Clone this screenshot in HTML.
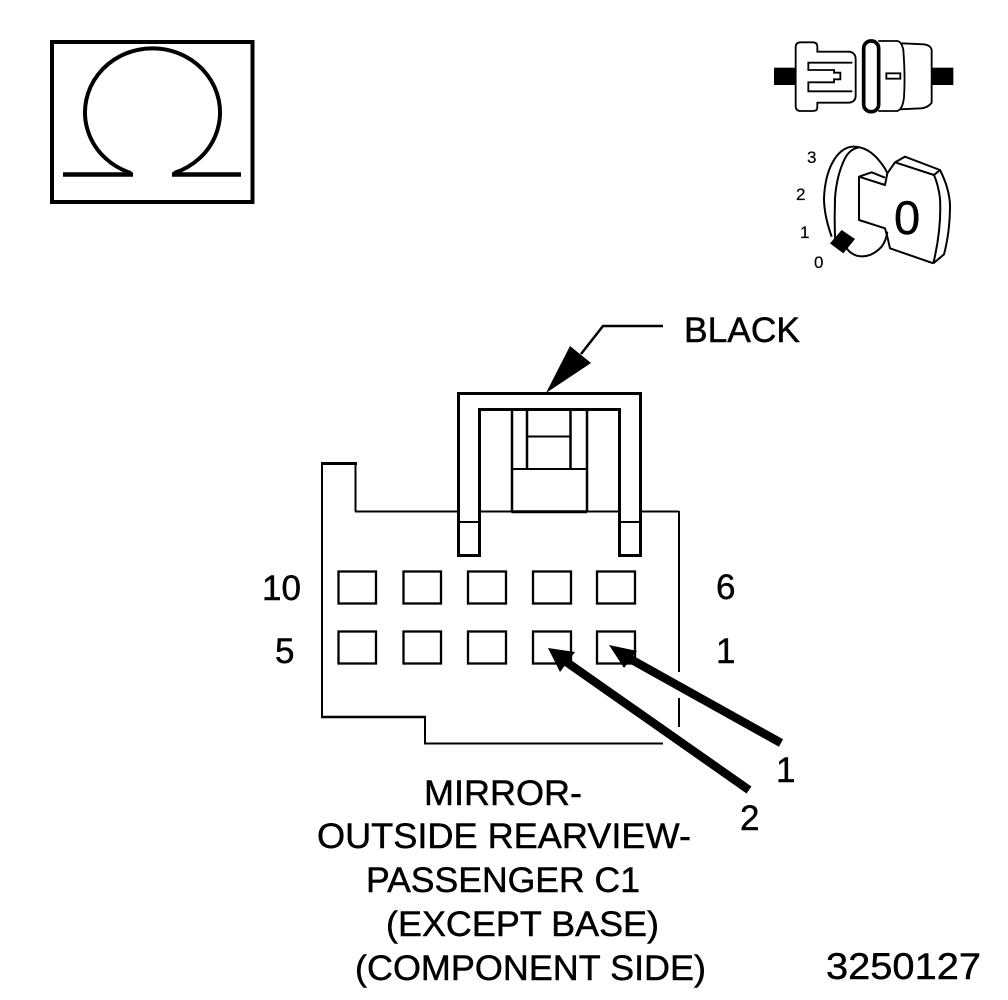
<!DOCTYPE html>
<html><head><meta charset="utf-8"><style>
html,body{margin:0;padding:0;background:#fff}
svg{display:block}
text{font-family:"Liberation Sans",Arial,sans-serif;fill:#000;stroke:#000;stroke-width:.45px;font-size:35px}
</style></head><body>
<svg width="1008" height="1000" viewBox="0 0 1008 1000" xmlns="http://www.w3.org/2000/svg">
<rect width="1008" height="1000" fill="#fff"/>

<!-- omega -->
<rect x="52" y="42" width="200.500" height="160" fill="none" stroke="#000" stroke-width="4"/>
<path d="M131 173A67.500 64 0 1 1 174 173" fill="none" stroke="#000" stroke-width="4"/>
<path d="M63 174.500H133M172 174.500H241" fill="none" stroke="#000" stroke-width="4.500"/>

<!-- seat belt -->
<g transform="translate(760,20) scale(.33333)" fill="none" stroke="#000" stroke-width="5.500">
<rect x="42" y="143" width="66" height="52" fill="#000" stroke="none"/>
<rect x="515" y="143" width="65" height="52" fill="#000" stroke="none"/>
<path d="M107 82Q107 67 122 67H158Q172 67 172 80V95H268Q287 98 287 118V228Q287 245 268 248H172V262Q172 273 158 273H122Q107 273 107 258Z" fill="#fff"/>
<path d="M277 128H145V150H222V158H241V178H222V187H145V214H277"/>
<path d="M355 63H412Q425 65 430 90Q436 170 432 232Q428 268 412 273H355"/>
<path d="M425 70L490 73Q512 75 515 90V248Q505 262 485 265L420 268"/>
<rect x="379" y="160" width="42" height="16"/>
<rect x="311" y="63" width="45" height="212" rx="22" stroke-width="11" fill="#fff"/>
</g>

<!-- key -->
<g transform="translate(790,135) scale(.33333)" fill="none" stroke="#000" stroke-width="6" stroke-linejoin="round">
<path d="M125 305Q102 240 102 190Q105 115 135 70Q160 35 190 35Q235 35 270 80Q285 98 292 115"/>
<path d="M135 310Q133 250 135 190Q140 120 165 70Q180 42 205 38"/>
<path d="M170 340Q180 355 200 362Q240 372 275 335Q288 318 292 290"/>
<path d="M292 115L285 150L207 125L245 112L285 128"/>
<path d="M207 125V255L285 280L292 305L300 340L430 385"/>
<path d="M292 115L315 82L432 120Q445 150 450 190Q455 280 430 385"/>
<path d="M315 82L345 65L450 105Q478 160 480 210Q480 290 462 358L430 385"/>
<path d="M432 120L450 105"/>
<polygon points="155,285 195,312 160,355 120,325" fill="#000" stroke="none"/>
</g>
<text x="894" y="234" style="font-size:47px">0</text>
<text x="807" y="163" style="font-size:17px;stroke-width:.2px">3</text>
<text x="796" y="200" style="font-size:17px;stroke-width:.2px">2</text>
<text x="800" y="238" style="font-size:17px;stroke-width:.2px">1</text>
<text x="814" y="268" style="font-size:17px;stroke-width:.2px">0</text>

<!-- connector body -->
<g fill="none" stroke="#000">
<path d="M322 463V717" stroke-width="2"/>
<path d="M321 463.500H357" stroke-width="3"/>
<path d="M355.500 463V511.500" stroke-width="2"/>
<path d="M355 511.500H458M479 511.500H620M641 511.500H679" stroke-width="2"/>
<path d="M679 511V672M679 698V727" stroke-width="2"/>
<path d="M321 717H426" stroke-width="2.500"/>
<path d="M425 716V743.500H663" stroke-width="2"/>

<path d="M511.500 511.700H587" stroke-width="3"/>
<path d="M512 409V511M587 409V511" stroke-width="2.500"/>
<path d="M527 409V468M570.500 409V468" stroke-width="2.500"/>
<path d="M527 436.500H571M512 469H587" stroke-width="2"/>
<path d="M458 522H479M620 522H641" stroke-width="2"/>
<path d="M458.500 555.500V393.500H640.500V555.500H619.500V409.500H479.500V555.500Z" fill="none" stroke-width="3"/>

<g stroke-width="2.300">
<rect x="338.500" y="571.500" width="37.500" height="32"/><rect x="403.500" y="571.500" width="37.500" height="32"/><rect x="468" y="571.500" width="38" height="32"/><rect x="533" y="571.500" width="38" height="32"/><rect x="597" y="571.500" width="38" height="32"/>
<rect x="338.500" y="631.500" width="37.500" height="32"/><rect x="403.500" y="631.500" width="37.500" height="32"/><rect x="468" y="631.500" width="38" height="32"/><rect x="533" y="631.500" width="38" height="32"/><rect x="597" y="631.500" width="38" height="32"/>
</g>
</g>

<!-- black leader -->
<path d="M663 326H603L581 354" fill="none" stroke="#000" stroke-width="2.500"/>
<polygon points="546,393 570,346 591,363" fill="#000"/>

<!-- pin arrows -->
<path d="M781 743L625 656" stroke="#000" stroke-width="8.500" fill="none"/>
<polygon points="609,645 637,651 624,668" fill="#000"/>
<path d="M749 790L565 661" stroke="#000" stroke-width="8.500" fill="none"/>
<polygon points="548,648 575,652 560,672" fill="#000"/>

<!-- labels -->
<text x="684" y="342" textLength="116" lengthAdjust="spacingAndGlyphs">BLACK</text>
<text x="262" y="600" textLength="39" lengthAdjust="spacingAndGlyphs">10</text>
<text x="275" y="663">5</text>
<text x="716" y="599">6</text>
<text x="716" y="663">1</text>
<text x="776" y="782">1</text>
<text x="740" y="830">2</text>
<text x="424" y="805" textLength="158" lengthAdjust="spacingAndGlyphs">MIRROR-</text>
<text x="317" y="848" textLength="374" lengthAdjust="spacingAndGlyphs">OUTSIDE REARVIEW-</text>
<text x="366" y="892" textLength="274" lengthAdjust="spacingAndGlyphs">PASSENGER C1</text>
<text x="386" y="936" textLength="273" lengthAdjust="spacingAndGlyphs">(EXCEPT BASE)</text>
<text x="355" y="980" textLength="351" lengthAdjust="spacingAndGlyphs">(COMPONENT SIDE)</text>
<text x="826" y="979" textLength="155" lengthAdjust="spacingAndGlyphs" style="font-size:37px">3250127</text>
</svg>
</body></html>
